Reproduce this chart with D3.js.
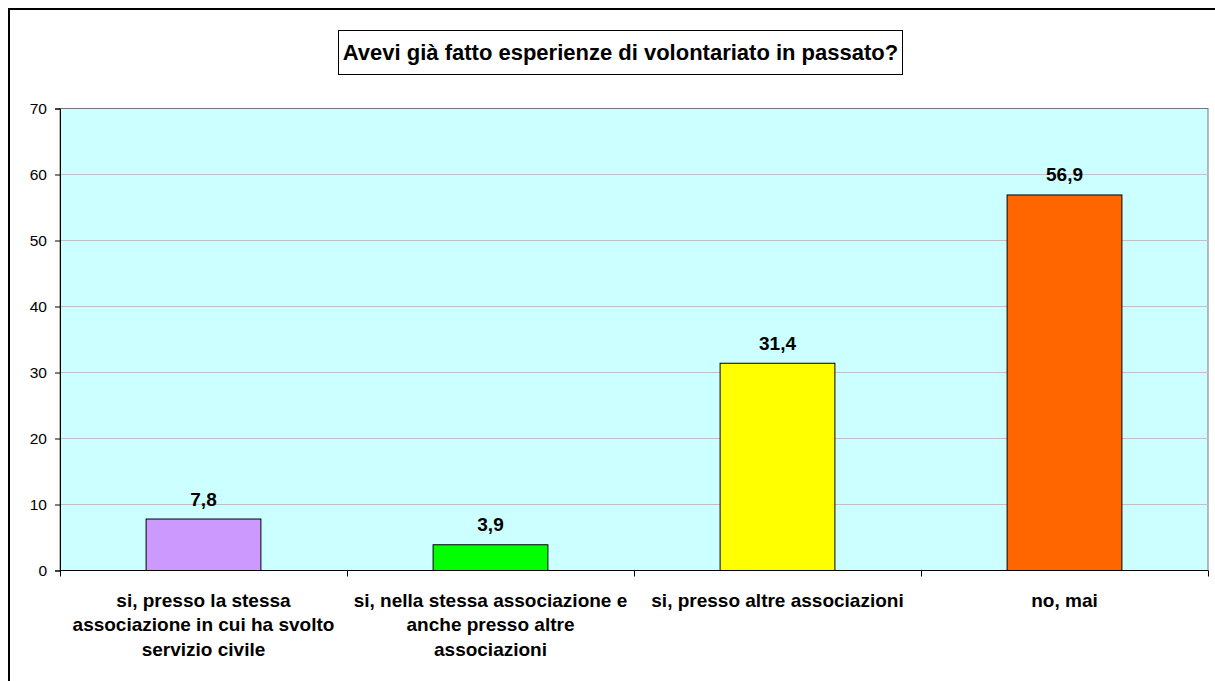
<!DOCTYPE html>
<html>
<head>
<meta charset="utf-8">
<script src="https://cdn.jsdelivr.net/npm/d3@7"></script>
<style>
  body { margin: 0; background: #fff; }
  svg { display: block; font-family: "Liberation Sans", Arial, sans-serif; }
</style>
</head>
<body>
<script>
// chart data
const title = "Avevi già fatto esperienze di volontariato in passato?";
const categories = [
  ["si, presso la stessa", "associazione in cui ha svolto", "servizio civile"],
  ["si, nella stessa associazione e", "anche presso altre", "associazioni"],
  ["si, presso altre associazioni"],
  ["no, mai"]
];
const values = [7.8, 3.9, 31.4, 56.9];
const colors = ["#CC99FF", "#00FF00", "#FFFF00", "#FF6600"];
const yTicks = [0, 10, 20, 30, 40, 50, 60, 70];

const W = 1215, H = 681;
const plot = { left: 60, top: 108.5, right: 1208, bottom: 570.5 };

const svg = d3.select("body").append("svg")
    .attr("width", W)
    .attr("height", H);

// outer chart border (runs off the right/bottom edge like the original)
svg.append("rect")
    .attr("x", 9).attr("y", 9)
    .attr("width", W + 20).attr("height", H + 20)
    .attr("fill", "#fff")
    .attr("stroke", "#000")
    .attr("stroke-width", 2);

// title with box
svg.append("rect")
    .attr("x", 338.5).attr("y", 30.5)
    .attr("width", 564).attr("height", 44)
    .attr("fill", "#fff")
    .attr("stroke", "#000")
    .attr("stroke-width", 1);
svg.append("text")
    .attr("x", 620.5).attr("y", 60)
    .attr("text-anchor", "middle")
    .attr("font-size", 22)
    .attr("font-weight", "bold")
    .text(title);

const idx = d3.range(categories.length);
const x = d3.scaleBand()
    .domain(idx)
    .range([plot.left, plot.right])
    .paddingInner(0.6)
    .paddingOuter(0.3);
const y = d3.scaleLinear()
    .domain([0, 70])
    .range([plot.bottom, plot.top]);

// plot background
svg.append("rect")
    .attr("x", plot.left).attr("y", plot.top)
    .attr("width", plot.right - plot.left)
    .attr("height", plot.bottom - plot.top)
    .attr("fill", "#CCFFFF")
    .attr("stroke", "#777")
    .attr("stroke-width", 1);

// gridlines
svg.append("g")
    .selectAll("line")
    .data(yTicks.filter(d => d > 0 && d < 70))
    .join("line")
    .attr("x1", plot.left).attr("x2", plot.right)
    .attr("y1", d => y(d)).attr("y2", d => y(d))
    .attr("stroke", "#c0c0c0")
    .attr("stroke-width", 1);

// bars
svg.append("g")
    .selectAll("rect")
    .data(values)
    .join("rect")
    .attr("x", (d, i) => x(i))
    .attr("y", d => y(d))
    .attr("width", x.bandwidth())
    .attr("height", d => y(0) - y(d))
    .attr("fill", (d, i) => colors[i])
    .attr("stroke", "#000")
    .attr("stroke-width", 1);

// value labels
svg.append("g")
    .selectAll("text")
    .data(values)
    .join("text")
    .attr("x", (d, i) => x(i) + x.bandwidth() / 2)
    .attr("y", d => y(d) - 13.5)
    .attr("text-anchor", "middle")
    .attr("font-size", 19)
    .attr("font-weight", "bold")
    .text(d => d3.format(".1f")(d).replace(".", ","));

// y axis
const yAxis = svg.append("g")
    .attr("transform", `translate(${plot.left},0)`)
    .call(d3.axisLeft(y).tickValues(yTicks).tickSize(5).tickPadding(8));
yAxis.select(".domain").attr("stroke", "#000");
yAxis.selectAll(".tick line").attr("stroke", "#000");
yAxis.selectAll(".tick text")
    .attr("font-size", 15.5)
    .attr("font-family", "Liberation Sans, Arial, sans-serif")
    .attr("fill", "#000");

// x axis with ticks at category boundaries
const xb = d3.scaleLinear().domain([0, categories.length]).range([plot.left, plot.right]);
const xAxis = svg.append("g")
    .attr("transform", `translate(0,${plot.bottom})`)
    .call(d3.axisBottom(xb).tickValues(d3.range(categories.length + 1)).tickSize(6).tickFormat(""));
xAxis.select(".domain").attr("stroke", "#000").attr("d", `M${plot.left},0H${plot.right}`);
xAxis.selectAll(".tick line").attr("stroke", "#000");

// category labels
const catG = svg.append("g")
    .selectAll("text")
    .data(categories)
    .join("text")
    .attr("text-anchor", "middle")
    .attr("font-size", 19)
    .attr("font-weight", "bold")
    .attr("fill", "#000");
catG.selectAll("tspan")
    .data((d, i) => d.map(line => ({ line, i })))
    .join("tspan")
    .attr("x", d => x(d.i) + x.bandwidth() / 2)
    .attr("y", (d, j) => 606.5 + j * 24.5)
    .text(d => d.line);
</script>
</body>
</html>
